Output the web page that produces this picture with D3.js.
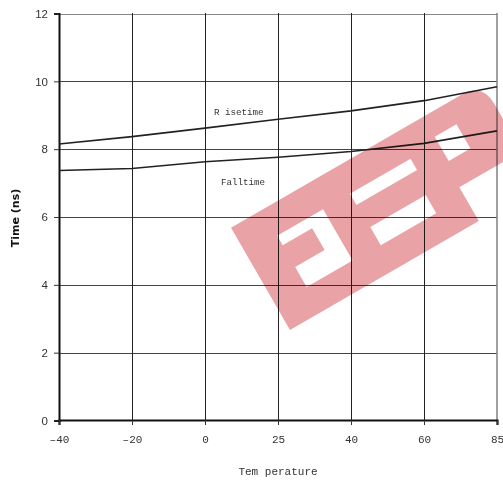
<!DOCTYPE html>
<html><head><meta charset="utf-8">
<script src="https://cdn.jsdelivr.net/npm/d3@7"></script>
<style>
html,body{margin:0;padding:0;background:#fff;}
svg{display:block;}
</style></head>
<body>
<svg id="c" width="503" height="483"></svg>
<script>
const temperatures = ["-40", "-20", "0", "25", "40", "60", "85"];
const riseTime = [8.15, 8.37, 8.62, 8.88, 9.13, 9.43, 9.84];
const fallTime = [7.37, 7.43, 7.63, 7.76, 7.93, 8.17, 8.54];
const yTicks = [0, 2, 4, 6, 8, 10, 12];
const xTickLabels = ["\u201340", "\u201320", "0", "25", "40", "60", "85"];

const svg = d3.select("#c");
const x = d3.scalePoint().domain(temperatures).range([59, 497]);
const y = d3.scaleLinear().domain([0, 12]).range([420.5, 13.5]);

// horizontal gridlines
svg.append("g").selectAll("line").data(yTicks.filter(d => d > 0)).join("line")
  .attr("x1", 59).attr("x2", 497)
  .attr("y1", d => Math.round(y(d)) + 0.5).attr("y2", d => Math.round(y(d)) + 0.5)
  .attr("stroke", d => d === 12 ? "#888" : "#444").attr("stroke-width", 1);
// vertical gridlines
svg.append("g").selectAll("line").data(temperatures.slice(1, -1)).join("line")
  .attr("x1", d => Math.round(x(d)) + 0.5).attr("x2", d => Math.round(x(d)) + 0.5)
  .attr("y1", 13).attr("y2", 420)
  .attr("stroke", "#222").attr("stroke-width", 1);
// right border
svg.append("line").attr("x1", 497).attr("x2", 497).attr("y1", 13).attr("y2", 421)
  .attr("stroke", "#888").attr("stroke-width", 1.6);

// y axis
const yAxis = d3.axisLeft(y).tickValues(yTicks).tickSize(5).tickPadding(6).tickFormat(d3.format("d"));
const gy = svg.append("g").attr("transform", "translate(59,0)").call(yAxis);
gy.select(".domain").attr("stroke", "#111").attr("stroke-width", 2);
gy.selectAll(".tick line").attr("stroke", "#333");
gy.selectAll(".tick text").attr("font-family", "Liberation Sans, Arial, sans-serif")
  .attr("font-size", 11.5).attr("fill", "#333");

// x axis
const xAxis = d3.axisBottom(x).tickSize(5).tickPadding(10).tickFormat((d, i) => xTickLabels[i]);
const gx = svg.append("g").attr("transform", "translate(0,420)").call(xAxis);
gx.select(".domain").attr("stroke", "#111").attr("stroke-width", 2.2);
gx.selectAll(".tick line").attr("stroke", "#333");
gx.selectAll(".tick text").attr("font-family", "Liberation Mono, Courier New, monospace")
  .attr("font-size", 11).attr("fill", "#333");

// lines
const line = d3.line().x((d, i) => x(temperatures[i])).y(d => y(d));
svg.append("path").datum(riseTime).attr("d", line).attr("fill", "none")
  .attr("stroke", "#222").attr("stroke-width", 1.6);
svg.append("path").datum(fallTime).attr("d", line).attr("fill", "none")
  .attr("stroke", "#222").attr("stroke-width", 1.6);

// series labels
svg.append("text").attr("x", 214).attr("y", 115).text("R isetime")
  .attr("font-family", "Liberation Mono, Courier New, monospace").attr("font-size", 9.2).attr("fill", "#333");
svg.append("text").attr("x", 221).attr("y", 185).text("Falltime")
  .attr("font-family", "Liberation Mono, Courier New, monospace").attr("font-size", 9.2).attr("fill", "#333");

// axis titles
svg.append("text").attr("x", 278).attr("y", 475).attr("text-anchor", "middle").text("Tem perature")
  .attr("font-family", "Liberation Mono, Courier New, monospace").attr("font-size", 11).attr("fill", "#333");
svg.append("text").attr("transform", "translate(19,218) rotate(-90)").attr("text-anchor", "middle")
  .text("Time (ns)").attr("font-family", "DejaVu Sans, sans-serif").attr("font-weight", "bold")
  .attr("font-size", 11).attr("fill", "#111");

// watermark
const r = 24;
const outer = `M0,0 L218,0 L218,-39 L${290 - r},-39 Q290,-39 290,${-39 - r} L290,${-118 + r} Q290,-118 ${290 - r},-118 L0,-118 Z`;
const holes = [
  "M36,-88 L89,-88 L89,-29 L36,-29 L36,-52 L70,-52 L70,-77 L36,-77 Z",
  "M120,-88 L190,-88 L190,-75 L120,-75 Z",
  "M121,-49 L185,-49 L185,-28 L121,-28 Z",
  "M222,-95 L247,-95 L247,-67 L222,-67 Z"
];
svg.append("path").attr("transform", "translate(290,330) rotate(-30)")
  .attr("d", outer + " " + holes.join(" ")).attr("fill-rule", "evenodd")
  .attr("fill", "#e9a3a6").style("mix-blend-mode", "multiply");
</script>
</body></html>
